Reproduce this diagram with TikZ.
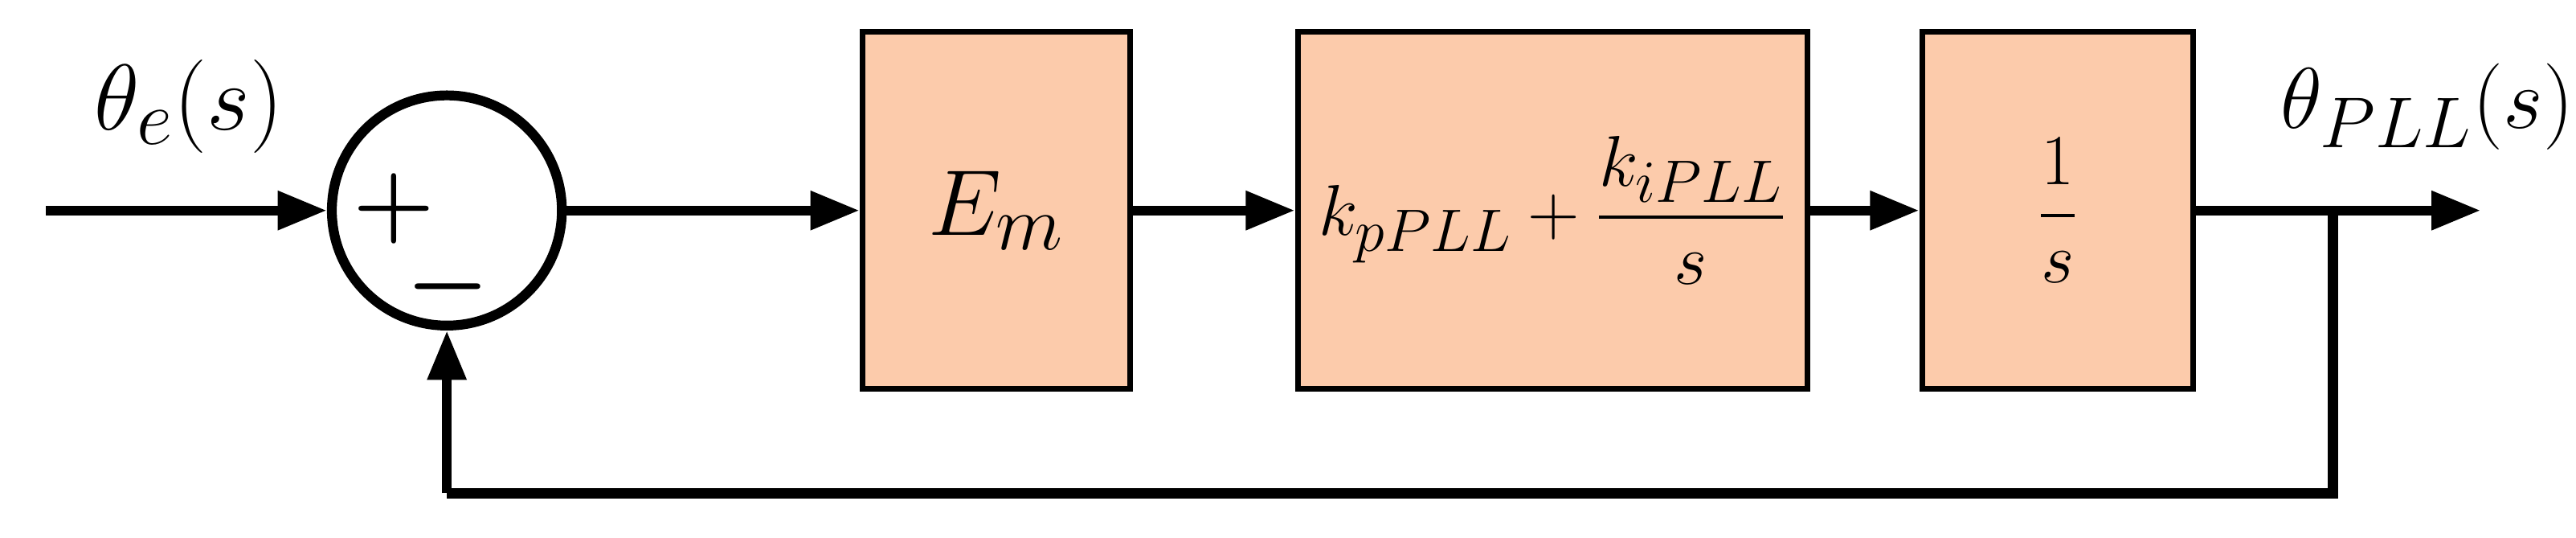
\documentclass[tikz,border=0pt]{standalone}
\usepackage{amsmath}
\usepackage{tikz}
\usetikzlibrary{arrows.meta}

\tikzset{
	blk/.style={draw,line width=2pt,fill=peach,minimum height=4.34cm,inner sep=0pt},
	sig/.style={line width=3.4pt,-{Triangle[length=0.6cm,width=0.45cm]}},
	ln/.style={line width=3.4pt},
	big/.style={font=\Huge\boldmath}
}
\definecolor{peach}{RGB}{252,203,171}

\begin{document}
\begin{tikzpicture}[font=\Huge]
	\useasboundingbox (0,0) rectangle (31.36,6.54);
	\coordinate (in) at (0.56,3.98);
	\node[draw,circle,line width=3.4pt,minimum size=2.8cm] (sum) at (5.44,3.98) {};
	\node[big,scale=1.3] (plus) at (4.8,4.0) {$+$};
	\node[big,scale=1.3] (minus) at (5.45,3.05) {$-$};
	\node[blk,minimum width=3.26cm] (em) at (12.13,3.98) {\scalebox{1.3}{$E_m$}};
	\node[blk,minimum width=6.2cm] (pi) at (18.9,3.98) {$k_{pPLL}+\dfrac{k_{iPLL}}{s}$};
	\node[blk,minimum width=3.3cm] (int) at (25.05,3.98) {$\dfrac{1}{s}$};
	\coordinate (out) at (30.2,3.98);
	\coordinate (br) at (28.4,3.98);
	\coordinate (fb1) at (28.4,0.54);
	\coordinate (fb2) at (5.44,0.54);
	\node[scale=1.3] (lin) at (2.3,5.24) {$\theta_e(s)$};
	\node[scale=1.2] (lout) at (29.55,5.24) {$\theta_{PLL}(s)$};
	\draw[sig] (in) -- (sum);
	\draw[sig] (sum) -- (em);
	\draw[sig] (em) -- (pi);
	\draw[sig] (pi) -- (int);
	\draw[sig] (int) -- (out);
	\draw[ln] (br) -- (fb1) -- (fb2);
	\draw[sig] (fb2) -- (sum.south);
\end{tikzpicture}
\end{document}
